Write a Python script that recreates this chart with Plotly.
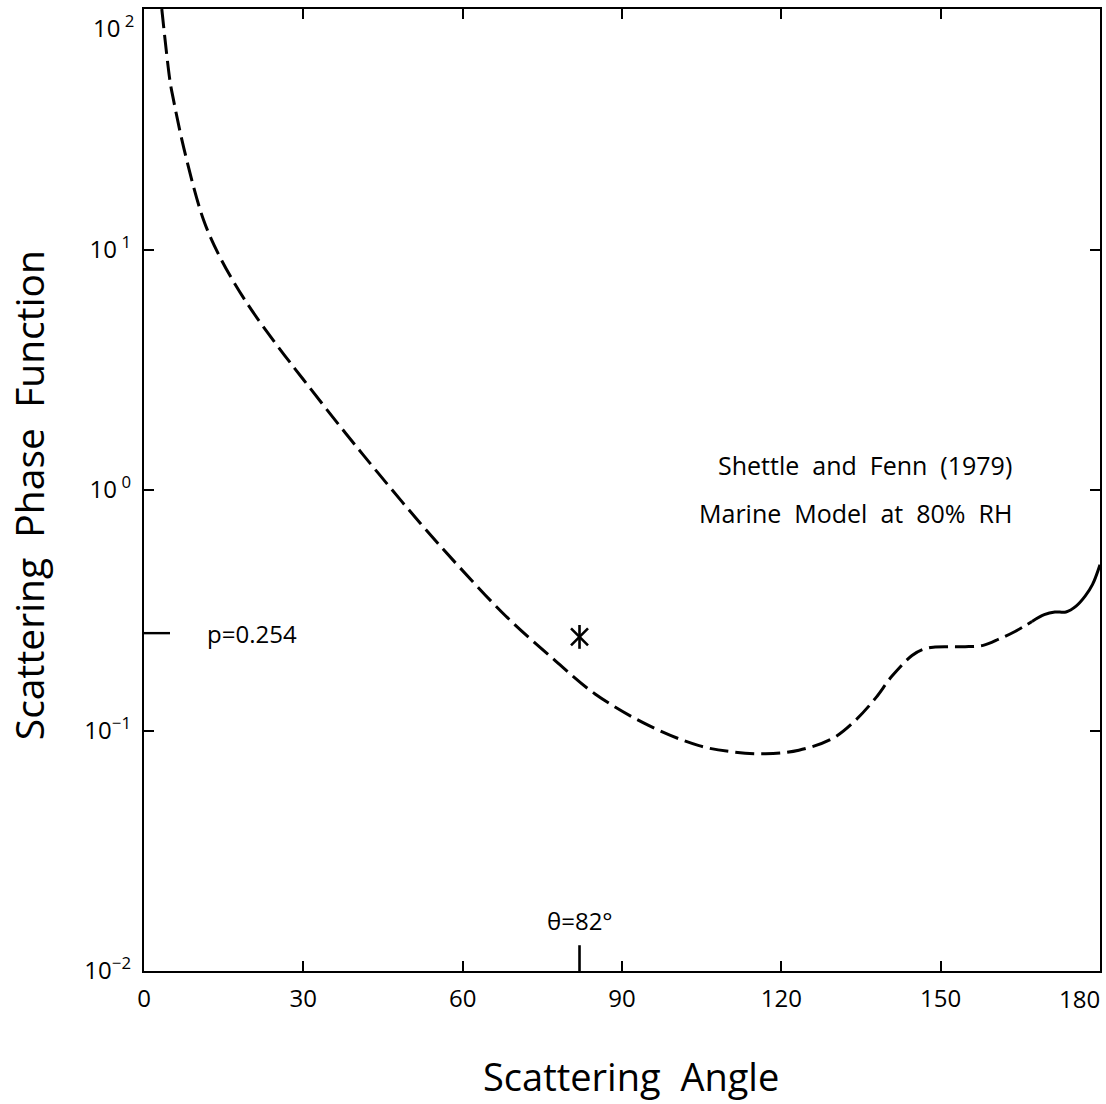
import math
import plotly.graph_objects as go

# ---- data ----
angle_dashed = [3.35, 4.9, 5.45, 7.5, 11.2, 14.5, 19.2, 24.6, 30.0, 38.0, 44.1, 52.1,
                59.5, 68.2, 77.0, 85.0, 95.1, 104.5, 110.8, 117.0, 123.3, 129.6,
                133.9, 137.7, 140.8, 144.6, 146.6, 148.6, 151.5, 154.6, 158.0, 161.0,
                164.0, 167.2]
phase_dashed = [100, 50.1, 43.0, 26.4, 13.3, 9.12, 6.07, 4.12, 2.88, 1.718, 1.175,
                0.724, 0.475, 0.298, 0.199, 0.1416, 0.1047, 0.0865, 0.0815, 0.0800,
                0.0828, 0.0926, 0.110, 0.136, 0.168, 0.205, 0.217, 0.222, 0.223,
                0.223, 0.226, 0.240, 0.258, 0.284]
angle_solid = [167.2, 169.5, 171.5, 173.6, 175.5, 177.2, 178.6, 180.0]
phase_solid = [0.284, 0.303, 0.311, 0.311, 0.329, 0.362, 0.405, 0.489]

star_angle = [82]
star_phase = [0.245]

p_value = 0.254
theta_mark = 82

x_ticks = [0, 30, 60, 90, 120, 150]
x_end_label = ("180", 180)
y_tickvals = [0.01, 0.1, 1, 10]
y_ticktext = ["10<sup>\u22122</sup>", "10<sup>\u22121</sup>", "10<sup> 0</sup>",
              "10<sup> 1</sup>"]
y_top_label = ("10<sup> 2</sup>", 100)

FONT = "Open Sans"
TICKSIZE = 24

fig = go.Figure()
fig.add_trace(go.Scatter(x=angle_dashed, y=phase_dashed, mode="lines",
                         line=dict(color="black", width=3, dash="19px,7px",
                                   shape="spline", smoothing=1.0),
                         showlegend=False, hoverinfo="skip"))
fig.add_trace(go.Scatter(x=angle_solid, y=phase_solid, mode="lines",
                         line=dict(color="black", width=3,
                                   shape="spline", smoothing=1.0),
                         showlegend=False, hoverinfo="skip"))
# asterisk (six arms)
for sym in ["line-ns-open", "x-thin-open"]:
    fig.add_trace(go.Scatter(x=star_angle, y=star_phase, mode="markers",
                             marker=dict(symbol=sym, size=17, color="black",
                                         line=dict(color="black", width=2.6)),
                             showlegend=False, hoverinfo="skip"))
# p marker on the left axis
fig.add_trace(go.Scatter(x=[0, 4.9], y=[p_value, p_value], mode="lines",
                         line=dict(color="black", width=2.4),
                         showlegend=False, hoverinfo="skip"))
# theta marker on the bottom axis
fig.add_trace(go.Scatter(x=[theta_mark, theta_mark], y=[0.01, 0.0128], mode="lines",
                         line=dict(color="black", width=2.6),
                         showlegend=False, hoverinfo="skip"))

fig.update_xaxes(type="linear", range=[0, 180], tickvals=x_ticks,
                 ticks="inside", ticklen=10, tickwidth=1.6, tickcolor="black",
                 showline=True, linewidth=2.4, linecolor="black", mirror="ticks",
                 showgrid=False, zeroline=False, ticklabelstandoff=5,
                 tickfont=dict(family=FONT, size=TICKSIZE, color="black"))
fig.update_yaxes(type="log", range=[-2, 2], tickvals=y_tickvals, ticktext=y_ticktext,
                 ticks="inside", ticklen=10, tickwidth=1.6, tickcolor="black",
                 showline=True, linewidth=2.4, linecolor="black", mirror="ticks",
                 showgrid=False, zeroline=False, ticklabelstandoff=6,
                 tickfont=dict(family=FONT, size=TICKSIZE, color="black"))

tf = dict(family=FONT, size=TICKSIZE, color="black")
annotations = [
    dict(x=x_end_label[1], y=0, xref="x", yref="paper", text=x_end_label[0],
         xanchor="right", yanchor="top", yshift=-9, xshift=2, showarrow=False, font=tf),
    dict(x=0, y=math.log10(y_top_label[1]), xref="paper", yref="y", text=y_top_label[0],
         xanchor="right", yanchor="top", xshift=-8, yshift=2, showarrow=False, font=tf),
    dict(x=11.5, y=math.log10(p_value), xref="x", yref="y", text="p=0.254",
         xanchor="left", yanchor="middle", showarrow=False, font=tf),
    dict(x=theta_mark, y=math.log10(0.0128), xref="x", yref="y", text="\u03b8=82\u00b0",
         xanchor="center", yanchor="bottom", yshift=6, showarrow=False, font=tf),
    dict(x=135.8, y=(492 - 467) / 240.0, xref="x", yref="y",
         text="Shettle  and  Fenn  (1979)", xanchor="center", yanchor="middle",
         showarrow=False, font=dict(family=FONT, size=25, color="black")),
    dict(x=133.9, y=(492 - 515) / 240.0, xref="x", yref="y",
         text="Marine  Model  at  80%  RH", xanchor="center", yanchor="middle",
         showarrow=False, font=dict(family=FONT, size=25, color="black")),
    dict(x=(632 - 144) / 958, y=-(1076 - 971) / 962, xref="paper", yref="paper",
         text="Scattering  Angle", xanchor="center", yanchor="middle",
         showarrow=False, font=dict(family=FONT, size=38, color="black")),
    dict(x=(28 - 144) / 958, y=1 - (495 - 9) / 962, xref="paper", yref="paper",
         text="Scattering  Phase  Function", textangle=-90,
         xanchor="center", yanchor="middle",
         showarrow=False, font=dict(family=FONT, size=39, color="black")),
]
fig.update_layout(annotations=annotations)

fig.update_layout(width=1106, height=1104,
                  margin=dict(l=144, r=4, t=9, b=133),
                  paper_bgcolor="white", plot_bgcolor="white")

fig.write_html("out.html")
